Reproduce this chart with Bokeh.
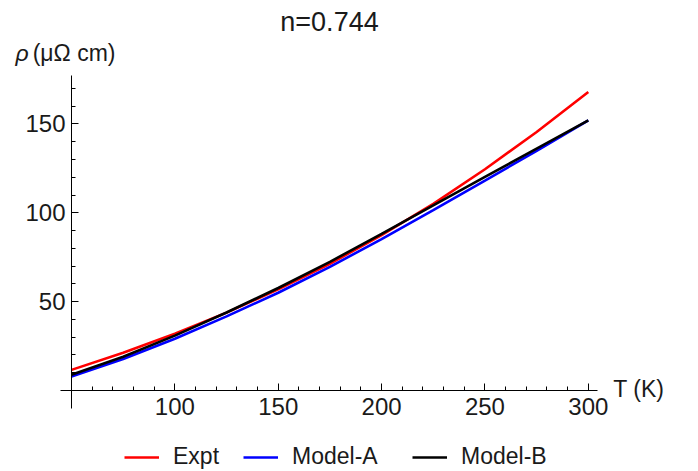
from bokeh.plotting import figure
from bokeh.models import Range1d, LinearAxis, FixedTicker, Label, Legend, LegendItem
from bokeh.embed import file_html
from bokeh.resources import INLINE

# ---- data ----
temps = [50, 75, 100, 125, 150, 175, 200, 225, 250, 275, 300]
expt = [11.6, 21.2, 31.9, 43.8, 57.0, 71.3, 87.5, 105.0, 124.5, 145.5, 168.0]
model_a = [7.8, 17.7, 29.1, 41.7, 55.0, 69.6, 85.2, 101.5, 118.1, 134.9, 152.0]
model_b = [8.8, 19.0, 30.9, 43.9, 57.7, 72.4, 88.2, 104.2, 120.2, 136.1, 152.0]
series_names = ["Expt", "Model-A", "Model-B"]
series_colors = ["#ff0000", "#0000ff", "#000000"]
x_major = [100, 150, 200, 250, 300]
x_minor = [t for t in range(60, 300, 10) if t % 50 != 0]
y_major = [50, 100, 150]
y_minor = [v for v in range(10, 180, 10) if v % 50 != 0]
title_text = "n=0.744"
xlabel = "T (K)"
ylabel_sym = "\u03c1"
ylabel_unit = "(\u03bc\u03a9 cm)"

FONT = "Liberation Sans"

p = figure(width=698, height=471, x_range=Range1d(15.65, 353.3), y_range=Range1d(-45.6, 219.5),
           x_axis_location=None, y_axis_location=None, toolbar_location=None,
           output_backend="svg", min_border=0, outline_line_color=None)
p.title.visible = False
p.grid.visible = False
p.background_fill_color = "white"
p.border_fill_color = "white"

xa = LinearAxis(fixed_location=0, bounds=(44.7, 304.5),
                ticker=FixedTicker(ticks=x_major, minor_ticks=x_minor))
ya = LinearAxis(fixed_location=50, bounds=(-10.1, 177.3),
                ticker=FixedTicker(ticks=y_major, minor_ticks=y_minor))
for ax in (xa, ya):
    ax.major_tick_in = 7
    ax.major_tick_out = 0
    ax.minor_tick_in = 4
    ax.minor_tick_out = 0
    ax.axis_line_color = "black"
    ax.major_tick_line_color = "black"
    ax.minor_tick_line_color = "black"
    ax.major_label_text_font = FONT
    ax.major_label_text_font_size = "24px"
    ax.major_label_text_color = "#1a1a1a"
xa.major_label_standoff = 8
ya.major_label_standoff = 6
p.add_layout(xa, "below")
p.add_layout(ya, "left")

renderers = []
for ys, c in zip([expt, model_a, model_b], series_colors):
    r = p.line(temps, ys, line_color=c, line_width=2.6)
    renderers.append(r)

# title and axis labels
p.add_layout(Label(x=174.8, y=207.6, text=title_text, text_font=FONT, text_font_size="27px",
                   text_align="center", text_baseline="alphabetic", text_color="#1a1a1a"))
p.add_layout(Label(x=22.9, y=190.1, text=ylabel_sym, text_font=FONT, text_font_size="23px",
                   text_font_style="italic", text_baseline="alphabetic", text_color="#1a1a1a"))
p.add_layout(Label(x=31.2, y=190.1, text=ylabel_unit, text_font=FONT, text_font_size="23px",
                   text_baseline="alphabetic", text_color="#1a1a1a"))
p.add_layout(Label(x=312.1, y=0.9, text=xlabel, text_font=FONT, text_font_size="23px",
                   text_baseline="alphabetic", text_color="#1a1a1a"))

# legend: one legend per entry to match spacing
legend_x = [124, 243, 412]
for name, r, lx in zip(series_names, renderers, legend_x):
    lg = Legend(items=[LegendItem(label=name, renderers=[r])], location=(lx, 1),
                orientation="horizontal", padding=0, margin=0, spacing=0,
                border_line_color=None, background_fill_alpha=0,
                glyph_width=35, glyph_height=24, label_height=24, label_standoff=14,
                label_text_font=FONT, label_text_font_size="23px", label_text_color="#1a1a1a")
    p.add_layout(lg, "center")

open("out.html", "w").write(file_html(p, INLINE))
